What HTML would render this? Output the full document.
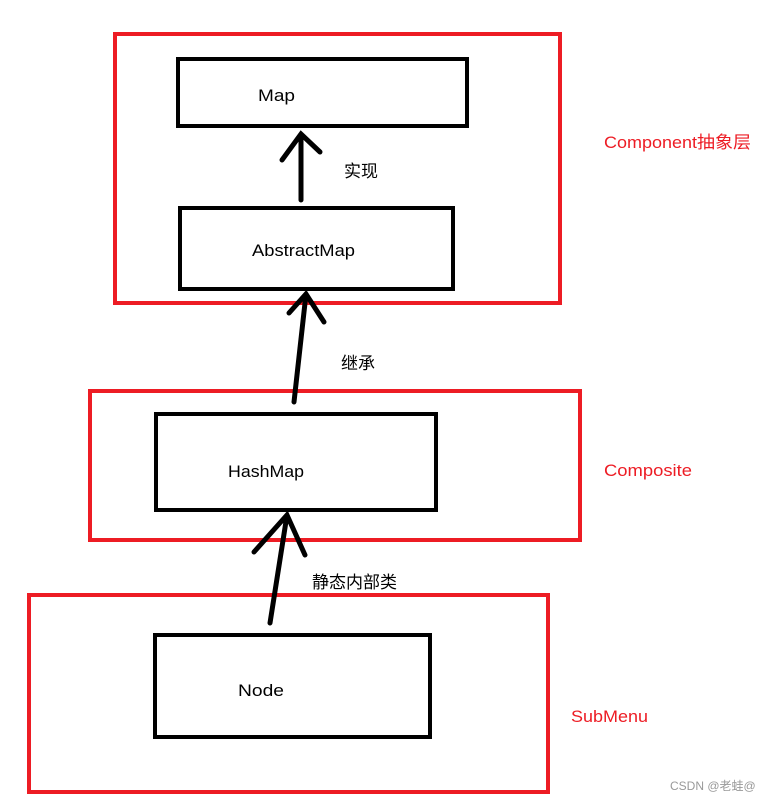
<!DOCTYPE html>
<html><head><meta charset="utf-8"><style>
html,body{margin:0;padding:0;background:#fff;width:769px;height:800px;overflow:hidden}
text{font-family:"Liberation Sans","Noto Sans CJK SC",sans-serif}
</style></head><body>
<svg width="769" height="800" xmlns="http://www.w3.org/2000/svg">
<g fill="none" stroke="#ed1c24" stroke-width="4">
<rect x="115" y="34" width="445" height="269"/>
<rect x="90" y="391" width="490" height="149"/>
<rect x="29" y="595" width="519" height="197"/>
</g>
<g fill="none" stroke="#000" stroke-width="4">
<rect x="178" y="59" width="289" height="67"/>
<rect x="180" y="208" width="273" height="81"/>
<rect x="156" y="414" width="280" height="96"/>
<rect x="155" y="635" width="275" height="102"/>
</g>
<g stroke="#000" stroke-width="5" stroke-linecap="round" fill="none">
<path d="M301 200 L301 134 M282 160 L301 134 L320 152"/>
<path d="M294 402 L306 294 M289 313 L306 294 L324 322"/>
<path d="M270 623 L287 515 M254 552 L287 515 L305 555"/>
</g>
<g font-size="17" fill="#000">
<text x="258" y="101" textLength="37" lengthAdjust="spacingAndGlyphs">Map</text>
<text x="252" y="256" textLength="103" lengthAdjust="spacingAndGlyphs">AbstractMap</text>
<text x="228" y="477" textLength="76" lengthAdjust="spacingAndGlyphs">HashMap</text>
<text x="238" y="696" textLength="46" lengthAdjust="spacingAndGlyphs">Node</text>
<text x="344" y="177" font-size="17">实现</text>
<text x="341" y="369" font-size="17">继承</text>
<text x="312" y="588" font-size="17">静态内部类</text>
</g>
<g font-size="17" fill="#ed1c24">
<text x="604" y="148" textLength="147" lengthAdjust="spacingAndGlyphs">Component抽象层</text>
<text x="604" y="476" textLength="88" lengthAdjust="spacingAndGlyphs">Composite</text>
<text x="571" y="722" textLength="77" lengthAdjust="spacingAndGlyphs">SubMenu</text>
</g>
<text x="670" y="790" font-size="12" fill="#999">CSDN @老蛙@</text>
</svg>
</body></html>
